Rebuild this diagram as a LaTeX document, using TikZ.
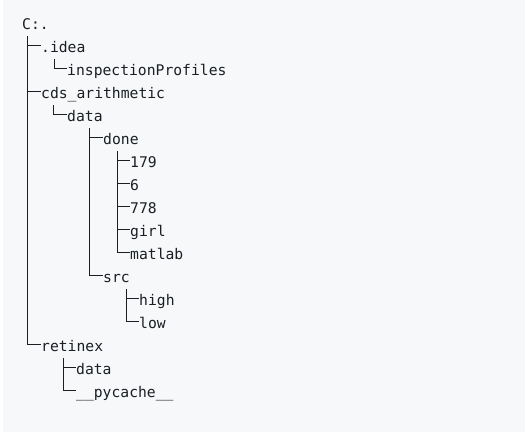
\documentclass[tikz,border=0pt]{standalone}
\usepackage{fontspec}
\setmonofont{DejaVu Sans Mono}
\definecolor{codebg}{HTML}{F6F8FA}
\definecolor{codefg}{HTML}{1B1F24}
\tikzset{
  entry/.style={anchor=base west, inner sep=0pt, text=codefg,
    font=\ttfamily\fontsize{14.7}{17}\selectfont},
  branch/.style={draw=codefg, line width=0.9pt}
}
\begin{document}
\begin{tikzpicture}[x=1pt, y=-1pt]
        % code block background
        \useasboundingbox (0,0) rectangle (526,432);
        \fill[white] (0,0) rectangle (526,432);
        \fill[codebg] (3,0) rectangle (525,432);

        % folder entries
        \node[entry] (root) at (22,29) {C:.};
        \node[entry] (idea) at (41,52) {.idea};
        \node[entry] (inspection) at (67,75) {inspectionProfiles};
        \node[entry] (cds) at (41,98) {cds\_arithmetic};
        \node[entry] (cdsdata) at (67,121) {data};
        \node[entry] (done) at (103,144) {done};
        \node[entry] (n179) at (130,167) {179};
        \node[entry] (n6) at (130,190) {6};
        \node[entry] (n778) at (130,213) {778};
        \node[entry] (girl) at (130,236) {girl};
        \node[entry] (matlab) at (130,259) {matlab};
        \node[entry] (src) at (103,282) {src};
        \node[entry] (high) at (139,305) {high};
        \node[entry] (low) at (139,328) {low};
        \node[entry] (retinex) at (41,351) {retinex};
        \node[entry] (retdata) at (76,374) {data};
        \node[entry] (pycache) at (76,397) {\_\_pycache\_\_};

        % trunks under each folder
        \coordinate (rootT) at (27.5,36);
        \coordinate (ideaT) at (54,59);
        \coordinate (cdsT) at (53,105);
        \coordinate (cdsdataT) at (89,128);
        \coordinate (doneT) at (117,151);
        \coordinate (srcT) at (126,289);
        \coordinate (retinexT) at (63,358);

        \draw[branch] (rootT) |- ([yshift=7pt]idea.base west);
        \draw[branch] (rootT) |- ([yshift=7pt]cds.base west);
        \draw[branch] (rootT) |- ([yshift=7pt]retinex.base west);
        \draw[branch] (ideaT) |- ([yshift=7pt]inspection.base west);
        \draw[branch] (cdsT) |- ([yshift=7pt]cdsdata.base west);
        \draw[branch] (cdsdataT) |- ([yshift=7pt]done.base west);
        \draw[branch] (cdsdataT) |- ([yshift=7pt]src.base west);
        \draw[branch] (doneT) |- ([yshift=7pt]n179.base west);
        \draw[branch] (doneT) |- ([yshift=7pt]n6.base west);
        \draw[branch] (doneT) |- ([yshift=7pt]n778.base west);
        \draw[branch] (doneT) |- ([yshift=7pt]girl.base west);
        \draw[branch] (doneT) |- ([yshift=7pt]matlab.base west);
        \draw[branch] (srcT) |- ([yshift=7pt]high.base west);
        \draw[branch] (srcT) |- ([yshift=7pt]low.base west);
        \draw[branch] (retinexT) |- ([yshift=7pt]retdata.base west);
        \draw[branch] (retinexT) |- ([yshift=7pt]pycache.base west);
\end{tikzpicture}
\end{document}
